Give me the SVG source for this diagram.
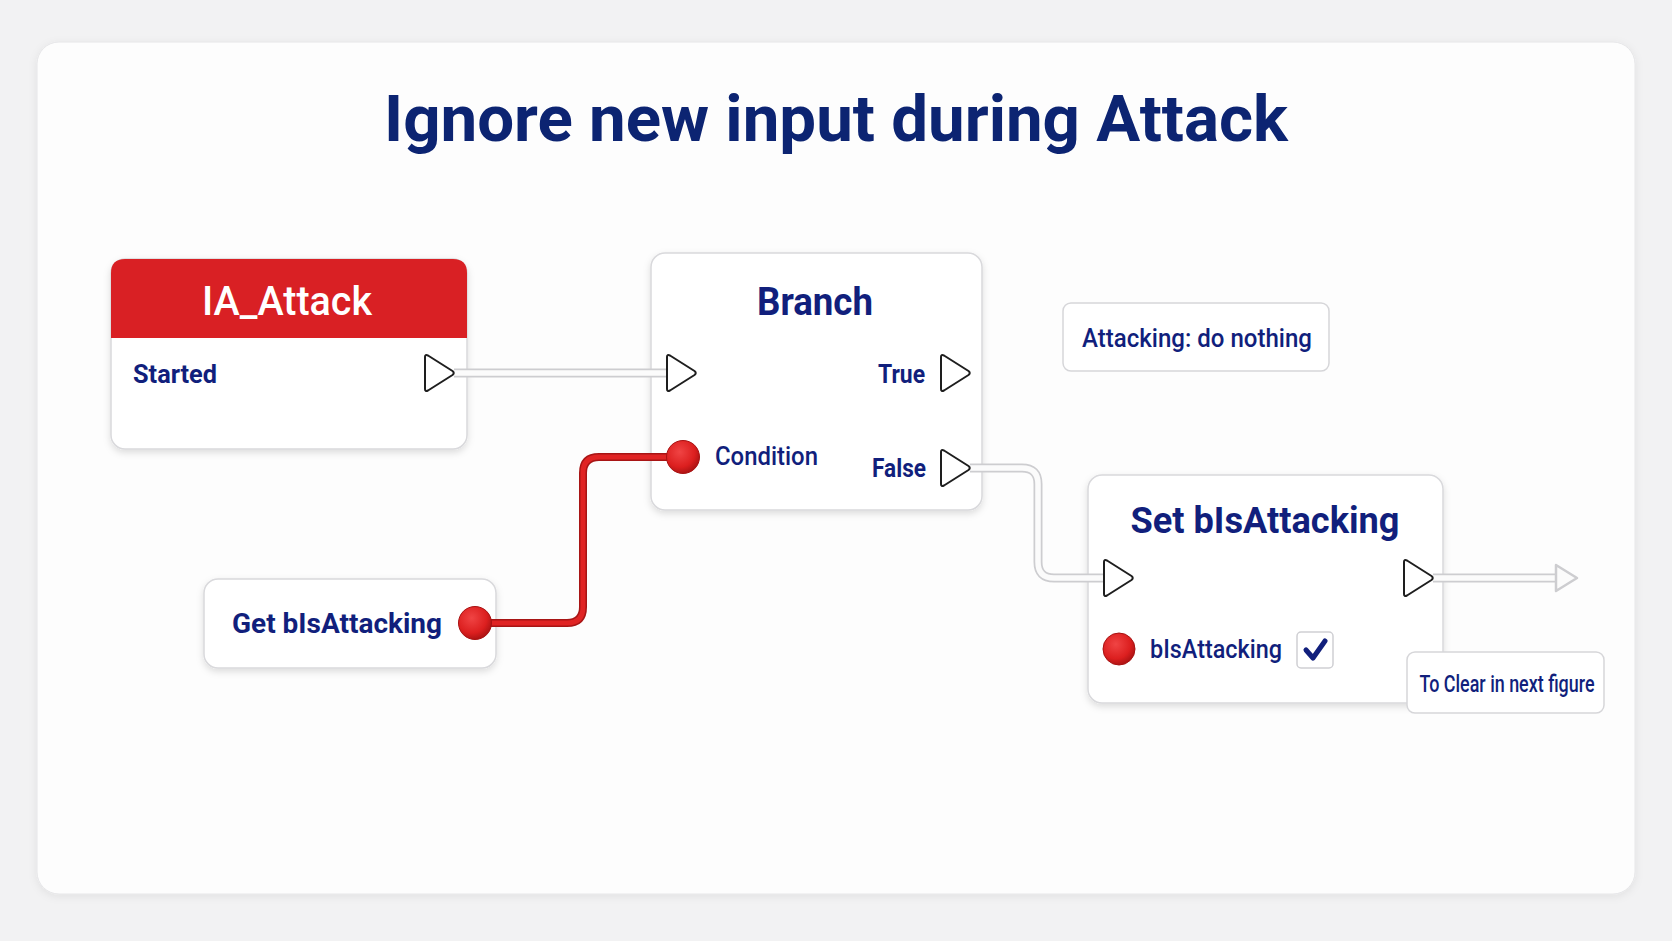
<svg xmlns="http://www.w3.org/2000/svg" width="1672" height="941" viewBox="0 0 1672 941">
<defs>
<filter id="sh" x="-10%" y="-10%" width="120%" height="130%">
<feDropShadow dx="0" dy="3" stdDeviation="3.5" flood-color="#000" flood-opacity="0.13"/>
</filter>
<filter id="csh" x="-5%" y="-5%" width="110%" height="110%">
<feDropShadow dx="0" dy="2" stdDeviation="4" flood-color="#000" flood-opacity="0.07"/>
</filter>
<radialGradient id="rp" cx="0.4" cy="0.35" r="0.65">
<stop offset="0" stop-color="#f04444"/>
<stop offset="0.7" stop-color="#dc1f1f"/>
<stop offset="1" stop-color="#b01414"/>
</radialGradient>
<path id="exec" d="M1,-16 Q1,-19 4,-17.5 L28.5,-2 Q31,0 28.5,2 L4,17.5 Q1,19 1,16 Z"/>
</defs>
<style>
.node{fill:#fff;stroke:#d9d9dc;stroke-width:1.5;filter:url(#sh)}
.box{fill:#fff;stroke:#d6d6d9;stroke-width:1.5}
.pin{fill:#fff;stroke:#1e1e1e;stroke-width:2;stroke-linejoin:round}
.rpin{fill:url(#rp);stroke:#a81212;stroke-width:1}
.t{font-family:Roboto,"Liberation Sans",sans-serif;fill:#111f7c}
.b{font-weight:bold}
.m{font-weight:500}
.wo{fill:none;stroke:#cdcdd0;stroke-width:9;stroke-linecap:butt;stroke-linejoin:round}
.wi{fill:none;stroke:#fbfbfb;stroke-width:5.5;stroke-linejoin:round}
.ro{fill:none;stroke:#a81515;stroke-width:8;stroke-linejoin:round}
.ri{fill:none;stroke:#e02424;stroke-width:5;stroke-linejoin:round}
</style>
<rect x="0" y="0" width="1672" height="941" fill="#f2f2f3"/>
<rect x="37" y="42" width="1598" height="852" rx="22" fill="#fdfdfd" stroke="#e6e6e8" stroke-width="1" filter="url(#csh)"/>
<text x="836" y="141" text-anchor="middle" class="t b" font-size="64" textLength="904" lengthAdjust="spacingAndGlyphs" style="fill:#0c2472">Ignore new input during Attack</text>

<g id="node-ia-attack">
<rect class="node" x="111" y="259" width="356" height="190" rx="14"/>
<path d="M111,338 V273 Q111,259 125,259 H453 Q467,259 467,273 V338 Z" fill="#d92024"/>
<text x="287" y="315" text-anchor="middle" class="t m" font-size="40" textLength="170" lengthAdjust="spacingAndGlyphs" style="fill:#fff">IA_Attack</text>
<text x="133" y="383" class="t b" font-size="25" textLength="84" lengthAdjust="spacingAndGlyphs">Started</text>
</g>

<g id="node-branch">
<rect class="node" x="651" y="253" width="331" height="257" rx="14"/>
<text x="815" y="315" text-anchor="middle" class="t b" font-size="38" textLength="116" lengthAdjust="spacingAndGlyphs">Branch</text>
<text x="925" y="383" text-anchor="end" class="t b" font-size="25" textLength="47" lengthAdjust="spacingAndGlyphs">True</text>
<text x="715" y="465" class="t m" font-size="25" textLength="103" lengthAdjust="spacingAndGlyphs">Condition</text>
<text x="926" y="477" text-anchor="end" class="t b" font-size="25" textLength="54" lengthAdjust="spacingAndGlyphs">False</text>
</g>

<g id="node-get">
<rect class="node" x="204" y="579" width="292" height="89" rx="14"/>
<text x="232" y="633" class="t b" font-size="28" textLength="210" lengthAdjust="spacingAndGlyphs">Get bIsAttacking</text>
</g>

<g id="node-set">
<rect class="node" x="1088" y="475" width="355" height="228" rx="14"/>
<text x="1265" y="533" text-anchor="middle" class="t b" font-size="36" textLength="269" lengthAdjust="spacingAndGlyphs">Set bIsAttacking</text>
<text x="1150" y="658" class="t m" font-size="26" textLength="132" lengthAdjust="spacingAndGlyphs">bIsAttacking</text>
<rect x="1297" y="632" width="36" height="36" rx="4" fill="#fff" stroke="#cfcfd3" stroke-width="1.5"/>
<path d="M1306,650 L1313,658 L1325,641" fill="none" stroke="#111f7c" stroke-width="5" stroke-linecap="round" stroke-linejoin="round"/>
</g>

<g id="connectors">
<path class="wo" d="M454,373 H667"/>
<path class="wi" d="M454,373 H667"/>
<path class="wo" d="M970,468 H1022 Q1038,468 1038,484 V562 Q1038,578 1054,578 H1104"/>
<path class="wi" d="M970,468 H1022 Q1038,468 1038,484 V562 Q1038,578 1054,578 H1104"/>
<path class="wo" d="M1433,578 H1560"/>
<path class="wi" d="M1433,578 H1560"/>
<path d="M1556,565 L1577,578 L1556,591 Z" fill="#fbfbfb" stroke="#cdcdd0" stroke-width="2.5" stroke-linejoin="round"/>
<path class="ro" d="M488,623 H567 Q583,623 583,607 V473 Q583,457 599,457 H670"/>
<path class="ri" d="M488,623 H567 Q583,623 583,607 V473 Q583,457 599,457 H670"/>
</g>

<g id="pins">
<use href="#exec" class="pin" x="424" y="373"/>
<use href="#exec" class="pin" x="666" y="373"/>
<use href="#exec" class="pin" x="940" y="373"/>
<use href="#exec" class="pin" x="940" y="468"/>
<use href="#exec" class="pin" x="1103" y="578"/>
<use href="#exec" class="pin" x="1403" y="578"/>
<circle class="rpin" cx="683" cy="457" r="16.5"/>
<circle class="rpin" cx="475" cy="623" r="16.5"/>
<circle class="rpin" cx="1119" cy="649" r="16"/>
</g>

<g id="note-attacking">
<rect class="box" x="1063" y="303" width="266" height="68" rx="8"/>
<text x="1197" y="347" text-anchor="middle" class="t m" font-size="25" textLength="230" lengthAdjust="spacingAndGlyphs">Attacking: do nothing</text>
</g>

<g id="note-clear">
<rect class="box" x="1407" y="652" width="197" height="61" rx="8"/>
<text x="1507" y="692" text-anchor="middle" class="t m" font-size="23" textLength="175" lengthAdjust="spacingAndGlyphs">To Clear in next figure</text>
</g>
</svg>
